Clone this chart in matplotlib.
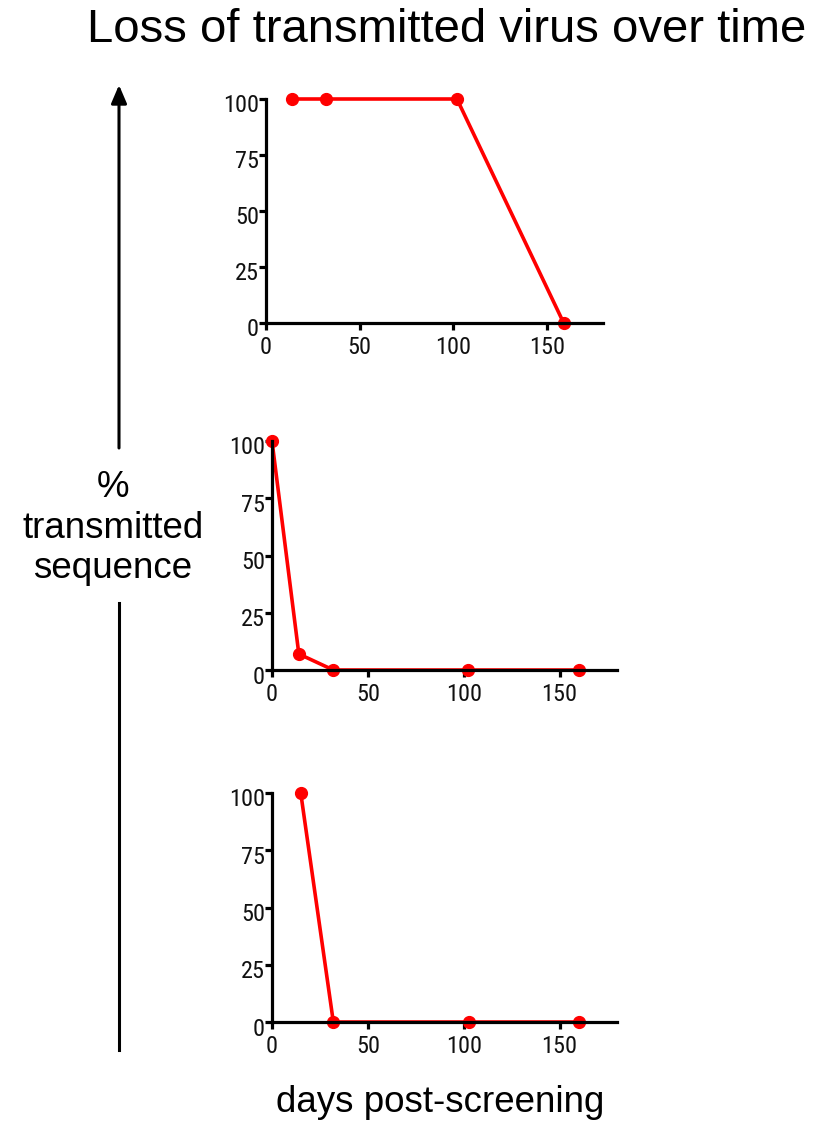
import matplotlib
matplotlib.use("Agg")
import matplotlib.pyplot as plt
from matplotlib import font_manager as fm
from matplotlib.lines import Line2D
from matplotlib.patches import FancyArrowPatch
from matplotlib.transforms import ScaledTranslation

# ---- data ----
days_a = [14, 32, 102, 159]
pct_a = [100, 100, 100, 0]
days_b = [0, 14, 32, 102, 160]
pct_b = [100, 7, 0, 0, 0]
days_c = [15, 32, 103, 160]
pct_c = [100, 0, 0, 0]
xticks = [0, 50, 100, 150]
yticks = [0, 25, 50, 75, 100]

title = "Loss of transmitted virus over time"
ylabel = "%\ntransmitted\nsequence"
xlabel = "days post-screening"

installed = {f.name for f in fm.fontManager.ttflist}
narrow = 'DejaVu Sans'
for cand in ['Liberation Sans Narrow', 'Arimo Narrow', 'Roboto Condensed', 'Archivo Narrow']:
    if cand in installed:
        narrow = cand
        break

W, H = 836, 1125
fig = plt.figure(figsize=(W / 100, H / 100), dpi=100)
tick_font = [narrow, 'DejaVu Sans']
main_font = ['Liberation Sans', 'DejaVu Sans']

def px_axes(left, right, top, bottom):
    return fig.add_axes([left / W, 1 - bottom / H, (right - left) / W, (bottom - top) / H])

panels = [
    (px_axes(266, 603, 99, 323), days_a, pct_a),
    (px_axes(272, 617, 441, 670), days_b, pct_b),
    (px_axes(272, 617, 793, 1022), days_c, pct_c),
]

ydown = ScaledTranslation(0, -0.045, fig.dpi_scale_trans)

for ax, xs, ys in panels:
    ax.plot(xs, ys, color='#ff0000', lw=2.6, marker='o', ms=8.5,
            clip_on=False, zorder=2)
    ax.set_xlim(0, 180)
    ax.set_ylim(0, 100)
    ax.set_xticks(xticks)
    ax.set_yticks(yticks)
    for s in ['top', 'right']:
        ax.spines[s].set_visible(False)
    for s in ['left', 'bottom']:
        ax.spines[s].set_linewidth(2.3)
        ax.spines[s].set_zorder(3)
    ax.tick_params(axis='both', length=5, width=2.3, direction='out', color='black')
    ax.tick_params(axis='y', pad=0)
    ax.tick_params(axis='x', pad=4.5)
    for lab in ax.get_xticklabels() + ax.get_yticklabels():
        lab.set_family(tick_font)
        lab.set_fontsize(17.5)
        lab.set_color('#111111')
    for lab in ax.get_yticklabels():
        lab.set_transform(lab.get_transform() + ydown)
    ax.patch.set_alpha(0)

fig.text(447 / W, 1 - 30 / H, title, ha='center', va='center',
         fontsize=34, family=main_font)
fig.text(440 / W, 1 - 1103 / H, xlabel, ha='center', va='center',
         fontsize=26.5, family=main_font)
fig.text(113 / W, 1 - 528 / H, ylabel, ha='center', va='center',
         fontsize=26.5, family=main_font, linespacing=1.2)

# vertical arrow with a gap for the label
x_ar = 119 / W
fig.add_artist(Line2D([x_ar, x_ar], [1 - 1050 / H, 1 - 603 / H],
                      transform=fig.transFigure, color='black', lw=2.2))
arrow = FancyArrowPatch((x_ar, 1 - 448 / H), (x_ar, 1 - 85 / H),
                        transform=fig.transFigure,
                        arrowstyle='-|>,head_length=11,head_width=4.7',
                        color='black', lw=2.2, mutation_scale=1,
                        shrinkA=0, shrinkB=0)
fig.add_artist(arrow)

fig.savefig('out.png', dpi=100)
